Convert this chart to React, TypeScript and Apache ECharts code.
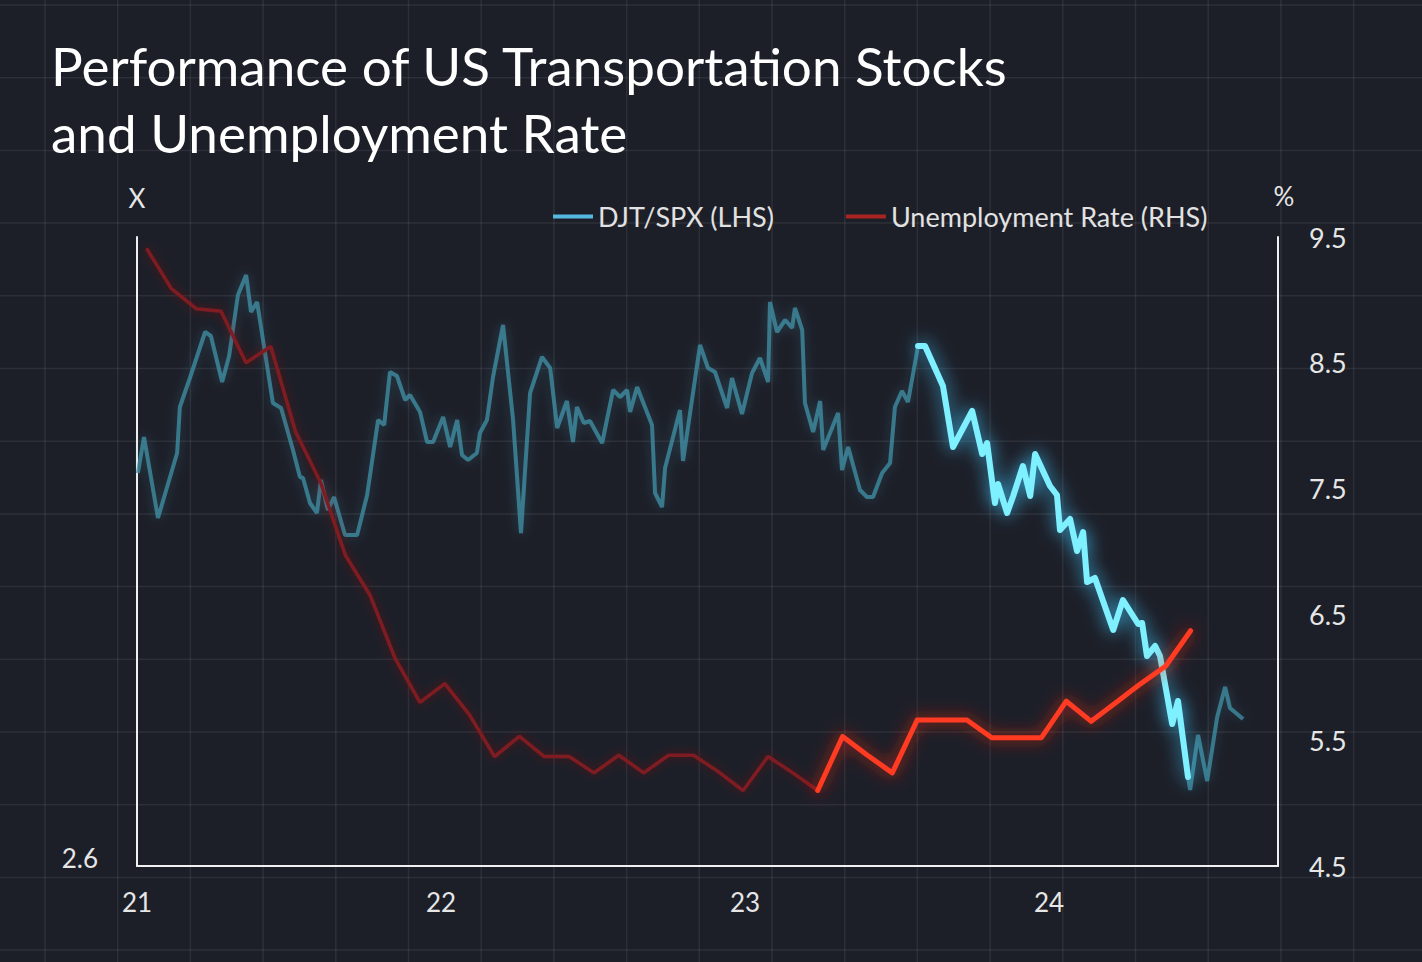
import React, { useEffect, useRef } from "react";
import * as echarts from "echarts";

// ---------- texts ----------
const TITLE = "Performance of US Transportation Stocks\nand Unemployment Rate";
const LEGEND_DJT = "DJT/SPX (LHS)";
const LEGEND_UNEMP = "Unemployment Rate (RHS)";
const LEFT_AXIS_NAME = "X";
const RIGHT_AXIS_NAME = "%";

// ---------- ticks ----------
const xTickYears = [2021, 2022, 2023, 2024];
const leftTickLabels = [2.6];
const rightTicks = [4.5, 5.5, 6.5, 7.5, 8.5, 9.5];

// ---------- DJT/SPX ratio (LHS), dates in decimal years ----------
const djtYears = [
  2021.003, 2021.023, 2021.069, 2021.132, 2021.141, 2021.174, 2021.224, 2021.243, 2021.28, 2021.303,
  2021.332, 2021.359, 2021.375, 2021.395, 2021.447, 2021.474, 2021.513, 2021.536, 2021.546, 2021.569,
  2021.592, 2021.605, 2021.628, 2021.648, 2021.684, 2021.724, 2021.757, 2021.793, 2021.813, 2021.832,
  2021.855, 2021.882, 2021.898, 2021.931, 2021.954, 2021.974, 2022.007, 2022.03, 2022.053, 2022.069,
  2022.089, 2022.118, 2022.128, 2022.151, 2022.171, 2022.204, 2022.237, 2022.263, 2022.293, 2022.332,
  2022.359, 2022.382, 2022.414, 2022.434, 2022.447, 2022.47, 2022.49, 2022.53, 2022.566, 2022.589,
  2022.612, 2022.622, 2022.645, 2022.694, 2022.704, 2022.727, 2022.737, 2022.786, 2022.796, 2022.852,
  2022.878, 2022.901, 2022.941, 2022.957, 2022.99, 2023.023, 2023.049, 2023.076, 2023.082, 2023.105,
  2023.132, 2023.155, 2023.164, 2023.188, 2023.197, 2023.224, 2023.247, 2023.257, 2023.306, 2023.319,
  2023.339, 2023.378, 2023.401, 2023.421, 2023.451, 2023.477, 2023.493, 2023.516, 2023.536, 2023.569,
  2023.592, 2023.651, 2023.684, 2023.747, 2023.78, 2023.796, 2023.822, 2023.832, 2023.862, 2023.882,
  2023.914, 2023.938, 2023.954, 2024.003, 2024.026, 2024.036, 2024.069, 2024.092, 2024.112, 2024.125,
  2024.151, 2024.211, 2024.243, 2024.293, 2024.306, 2024.322, 2024.349, 2024.365, 2024.382, 2024.405,
  2024.424, 2024.457, 2024.464, 2024.49, 2024.52, 2024.553, 2024.579, 2024.595, 2024.638,
];
const djtValues = [
  3.386, 3.458, 3.296, 3.426, 3.518, 3.576, 3.668, 3.66, 3.568, 3.62,
  3.742, 3.782, 3.708, 3.728, 3.526, 3.516, 3.432, 3.378, 3.376, 3.326,
  3.306, 3.372, 3.312, 3.338, 3.262, 3.262, 3.342, 3.492, 3.482, 3.588,
  3.58, 3.532, 3.542, 3.508, 3.448, 3.448, 3.498, 3.438, 3.492, 3.422,
  3.412, 3.426, 3.466, 3.492, 3.578, 3.682, 3.492, 3.266, 3.546, 3.618,
  3.596, 3.476, 3.53, 3.448, 3.518, 3.486, 3.49, 3.446, 3.552, 3.538,
  3.552, 3.508, 3.558, 3.482, 3.346, 3.318, 3.396, 3.512, 3.41, 3.642,
  3.596, 3.588, 3.516, 3.576, 3.504, 3.586, 3.616, 3.568, 3.728, 3.668,
  3.692, 3.676, 3.716, 3.672, 3.526, 3.468, 3.53, 3.432, 3.506, 3.392,
  3.438, 3.352, 3.338, 3.338, 3.386, 3.406, 3.518, 3.55, 3.528, 3.64,
  3.64, 3.56, 3.438, 3.51, 3.424, 3.446, 3.326, 3.364, 3.306, 3.34,
  3.4, 3.34, 3.424, 3.36, 3.342, 3.272, 3.294, 3.23, 3.268, 3.168,
  3.176, 3.072, 3.132, 3.084, 3.086, 3.02, 3.04, 3.02, 2.962, 2.884,
  2.93, 2.778, 2.752, 2.862, 2.77, 2.898, 2.958, 2.916, 2.894,
];
const djtHighlightFrom = 99; // index where the bright stretch starts
const djtHighlightTo = 131; // index where it ends

// ---------- Unemployment rate (RHS), monthly from Jan 2021 ----------
const unempRate = [
  9.41, 9.09, 8.93, 8.91, 8.5, 8.63, 7.95, 7.55, 6.97, 6.65, 6.15, 5.8,
  5.95, 5.7, 5.37, 5.53, 5.37, 5.37, 5.24, 5.38, 5.24, 5.38, 5.38, 5.25,
  5.1, 5.37, 5.24, 5.1, 5.53, 5.38, 5.24, 5.66, 5.66, 5.66, 5.52, 5.52,
  5.52, 5.81, 5.65, 5.8, 5.95, 6.09, 6.37,
];
const unempHighlightFrom = 27;

const FONT = "Lato, 'Open Sans', 'Noto Sans', sans-serif";
const W = 1422;
const H = 962;

export default function App() {
  const ref = useRef<HTMLDivElement>(null);

  useEffect(() => {
    if (!ref.current) return;
    const chart = echarts.init(ref.current, undefined, { renderer: "svg" });

    const djtPairs = djtYears.map((y, i) => [y, djtValues[i]]);
    const unempPairs = unempRate.map((v, i) => [i, v]);

    // decorative background grid
    const bg: any[] = [];
    const step = 72.7;
    for (let x = 45; x < W; x += step) {
      bg.push({ type: "line", z: -10, silent: true, shape: { x1: x, y1: 0, x2: x, y2: H }, style: { stroke: "rgba(255,255,255,0.075)", lineWidth: 1.5 } });
    }
    for (let y = 5; y < H; y += step) {
      bg.push({ type: "line", z: -10, silent: true, shape: { x1: 0, y1: y, x2: W, y2: y }, style: { stroke: "rgba(255,255,255,0.075)", lineWidth: 1.5 } });
    }

    const labelColor = "#e6e6e6";
    const axisLineStyle = { color: "#f0f0f0", width: 2 };

    const dimBlue = {
      color: "rgba(64,142,164,0.78)",
      width: 4,
      shadowBlur: 12,
      shadowColor: "rgba(70,170,200,0.35)",
    };

    const option: any = {
      animation: false,
      backgroundColor: "#1d1f28",
      graphic: { elements: bg },
      title: {
        text: TITLE,
        left: 51,
        top: 32,
        padding: 0,
        textStyle: { color: "#ffffff", fontSize: 53, lineHeight: 67, fontFamily: FONT, fontWeight: "normal" },
      },
      legend: {
        left: 553,
        top: 203,
        padding: 0,
        icon: "rect",
        itemWidth: 40,
        itemHeight: 4,
        itemGap: 72,
        selectedMode: false,
        textStyle: { color: "#e2e2e2", fontSize: 27, fontFamily: FONT },
        data: [
          { name: LEGEND_DJT, itemStyle: { color: "#55b8e0" } },
          { name: LEGEND_UNEMP, itemStyle: { color: "#a82420" } },
        ],
      },
      grid: { left: 137, right: 144, top: 237, bottom: 96, containLabel: false },
      xAxis: [
        {
          type: "value",
          min: 2021,
          max: 2024.753,
          interval: 1,
          axisLine: { show: true, onZero: false, lineStyle: axisLineStyle },
          axisTick: { show: false },
          splitLine: { show: false },
          axisLabel: {
            color: labelColor,
            fontSize: 26,
            fontFamily: FONT,
            margin: 23,
            showMaxLabel: false,
            formatter: (v: number) => {
              const r = Math.round(v);
              return Math.abs(v - r) < 1e-6 && xTickYears.includes(r) ? String(r).slice(2) : "";
            },
          },
        },
        { type: "value", min: -0.382, max: 45.515, show: false },
      ],
      yAxis: [
        {
          type: "value",
          position: "left",
          min: 2.6,
          max: 3.858,
          interval: 1.3,
          name: LEFT_AXIS_NAME,
          nameLocation: "end",
          nameGap: 26,
          nameTextStyle: { color: labelColor, fontSize: 26, fontFamily: FONT },
          axisLine: { show: true, onZero: false, lineStyle: axisLineStyle },
          axisTick: { show: false },
          splitLine: { show: false },
          axisLabel: {
            color: labelColor,
            fontSize: 26,
            fontFamily: FONT,
            margin: 39,
            showMaxLabel: false,
            verticalAlign: "bottom",
            lineHeight: 16,
            formatter: (v: number) => {
              const hit = leftTickLabels.find((t) => Math.abs(t - v) < 1e-6);
              return hit !== undefined ? hit.toFixed(1) : "";
            },
          },
        },
        {
          type: "value",
          position: "right",
          min: 4.5,
          max: 9.5,
          interval: 1,
          name: RIGHT_AXIS_NAME,
          nameLocation: "end",
          nameGap: 28,
          nameTextStyle: { color: labelColor, fontSize: 26, fontFamily: FONT, padding: [0, 0, 0, 12] },
          axisLine: { show: true, onZero: false, lineStyle: axisLineStyle },
          axisTick: { show: false },
          splitLine: { show: false },
          axisLabel: {
            color: labelColor,
            fontSize: 27,
            fontFamily: FONT,
            margin: 31,
            formatter: (v: number) => {
              const hit = rightTicks.find((t) => Math.abs(t - v) < 1e-6);
              return hit !== undefined ? hit.toFixed(1) : "";
            },
          },
        },
      ],
      series: [
        {
          name: LEGEND_DJT,
          type: "line",
          xAxisIndex: 0,
          yAxisIndex: 0,
          showSymbol: false,
          z: 2,
          data: djtPairs.slice(0, djtHighlightFrom + 1),
          lineStyle: dimBlue,
        },
        {
          name: LEGEND_DJT,
          type: "line",
          xAxisIndex: 0,
          yAxisIndex: 0,
          showSymbol: false,
          z: 2,
          data: djtPairs.slice(djtHighlightTo),
          lineStyle: dimBlue,
        },
        {
          name: LEGEND_UNEMP,
          type: "line",
          xAxisIndex: 1,
          yAxisIndex: 1,
          showSymbol: false,
          z: 3,
          data: unempPairs.slice(0, unempHighlightFrom + 1),
          lineStyle: { color: "#7e1d22", width: 3.5, shadowBlur: 8, shadowColor: "rgba(170,30,30,0.45)" },
        },
        {
          name: LEGEND_DJT,
          type: "line",
          xAxisIndex: 0,
          yAxisIndex: 0,
          showSymbol: false,
          z: 4,
          data: djtPairs.slice(djtHighlightFrom, djtHighlightTo + 1),
          lineStyle: { color: "#7ef0ff", width: 6, shadowBlur: 18, shadowColor: "rgba(60,200,255,0.9)", cap: "round", join: "round" },
        },
        {
          name: LEGEND_UNEMP,
          type: "line",
          xAxisIndex: 1,
          yAxisIndex: 1,
          showSymbol: false,
          z: 5,
          data: unempPairs.slice(unempHighlightFrom),
          lineStyle: { color: "#ff3a22", width: 5, shadowBlur: 16, shadowColor: "rgba(255,40,20,0.85)", cap: "round", join: "round" },
        },
      ],
    };

    chart.setOption(option);
    return () => chart.dispose();
  }, []);

  return (
    <div
      ref={ref}
      style={{ position: "fixed", left: 0, top: 0, width: W, height: H, background: "#1d1f28" }}
    />
  );
}
